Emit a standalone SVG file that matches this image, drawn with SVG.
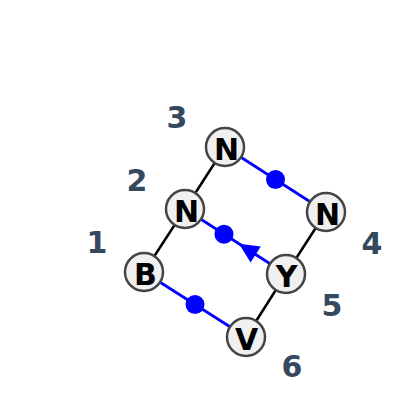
<svg xmlns="http://www.w3.org/2000/svg" width="400" height="415" viewBox="0 0 400 415">
<style>
.bond{stroke:#000;stroke-width:2.5;fill:none}
.hb{stroke:#0000ff;stroke-width:2.7;fill:none}
.dot{fill:#0000ff}
.node circle{fill:#f0f0f0;stroke:#444;stroke-width:2.5}
.node text{font-family:"DejaVu Sans",sans-serif;font-weight:bold;font-size:30px;fill:#000;text-anchor:middle}
.lbl{font-family:"DejaVu Sans",sans-serif;font-weight:bold;font-size:30px;fill:#34495e;text-anchor:middle}
</style>
<rect width="400" height="415" fill="#fff"/>
<g id="connectors">
<line class="bond" x1="225" y1="147" x2="185" y2="209"/>
<line class="bond" x1="185" y1="209" x2="144" y2="272"/>
<line class="bond" x1="326" y1="212" x2="286" y2="274"/>
<line class="bond" x1="286" y1="274" x2="246" y2="337"/>
<line class="hb" x1="225" y1="147" x2="326" y2="212"/>
<circle class="dot" cx="275.5" cy="179.5" r="9.5"/>
<line class="hb" x1="185" y1="209" x2="286" y2="274"/>
<circle class="dot" cx="224" cy="234.2" r="9.5"/>
<polygon class="dot" points="239,243.8 260.8,246.5 250.6,262.5"/>
<line class="hb" x1="144" y1="272" x2="246" y2="337"/>
<circle class="dot" cx="195" cy="304.5" r="9.5"/>
</g>
<g id="n3" class="node"><circle cx="225" cy="147" r="19"/><text x="226.5" y="160">N</text></g>
<g id="n2" class="node"><circle cx="185" cy="209" r="19"/><text x="186.5" y="222">N</text></g>
<g id="n1" class="node"><circle cx="144" cy="272" r="19"/><text x="145.5" y="285">B</text></g>
<g id="n4" class="node"><circle cx="326" cy="212" r="19"/><text x="327.5" y="225">N</text></g>
<g id="n5" class="node"><circle cx="286" cy="274" r="19"/><text x="286.5" y="287">Y</text></g>
<g id="n6" class="node"><circle cx="246" cy="337" r="19"/><text x="246.5" y="350">V</text></g>
<g id="labels">
<text class="lbl" x="177" y="128">3</text>
<text class="lbl" x="137" y="191">2</text>
<text class="lbl" x="97" y="253">1</text>
<text class="lbl" x="372" y="254">4</text>
<text class="lbl" x="332" y="316">5</text>
<text class="lbl" x="292" y="377">6</text>
</g>
</svg>
